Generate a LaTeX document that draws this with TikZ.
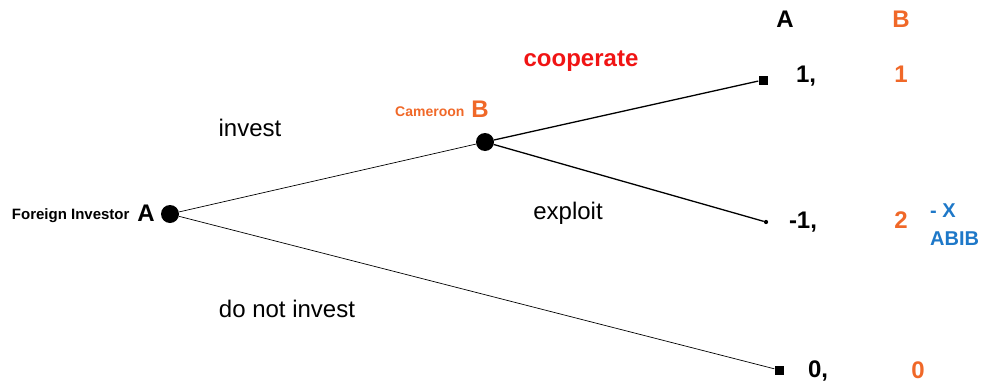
\documentclass[tikz,border=0pt]{standalone}
\usepackage{fontspec}
\setmainfont{Liberation Sans}
\usepackage{tikz}
\usetikzlibrary{positioning}
\definecolor{camorange}{RGB}{240,104,40}
\definecolor{abibblue}{RGB}{30,120,200}
\definecolor{coopred}{RGB}{240,20,20}

\begin{document}
\begin{tikzpicture}[x=1pt,y=-1pt,
        decision/.style={circle, fill, inner sep=0pt, minimum size=18pt},
        leaf/.style={rectangle, fill, inner sep=0pt, minimum size=9pt},
        payoff/.style={font=\fontsize{24}{26}\selectfont\bfseries},
        move/.style={font=\fontsize{24}{26}\selectfont}]
            \useasboundingbox (0,0) rectangle (983,383);
            \node[decision] (inv) at (170,214) {};
            \node[decision] (cam) at (485,142) {};
            \node[leaf] (coop) at (763,80) {};
            \node[circle, fill, inner sep=1.5pt] (expl) at (766,222) {};
            \node[leaf] (none) at (779,370) {};
            % players
            \node[payoff] (invA) at (146,213) {A};
            \node[anchor=east, font=\fontsize{15}{17}\selectfont\bfseries] at (133,216) {Foreign Investor};
            \node[payoff, text=camorange] (camB) at (480,109) {B};
            \node[anchor=east, font=\fontsize{14}{16}\selectfont\bfseries, text=camorange] at (468,112) {Cameroon};
            % branches
            \draw[line width=0.7pt] (inv) -- (cam);
            \draw[line width=0.7pt] (inv) -- (none);
            \draw[line width=1.3pt] (cam) -- (coop);
            \draw[line width=1.3pt] (cam) -- (expl);
            \node[move] at (250,128) {invest};
            \node[move] at (287,309) {do not invest};
            \node[move] at (568,213) {exploit};
            \node[payoff, text=coopred] at (581,61) {cooperate};
            % payoffs
            \node[payoff] at (785,19) {A};
            \node[payoff, text=camorange] at (901,19) {B};
            \node[payoff] at (806,76) {1,};
            \node[payoff, text=camorange] at (901,74) {1};
            \node[payoff] at (803,222) {-1,};
            \node[payoff, text=camorange] at (901,220) {2};
            \node[payoff] at (818,371) {0,};
            \node[payoff, text=camorange] at (918,370) {0};
            \node[font=\fontsize{20}{28}\selectfont\bfseries, text=abibblue, align=left, anchor=north west, inner sep=0pt] at (930,204) {- X\\ABIB};
        \end{tikzpicture}
\end{document}
